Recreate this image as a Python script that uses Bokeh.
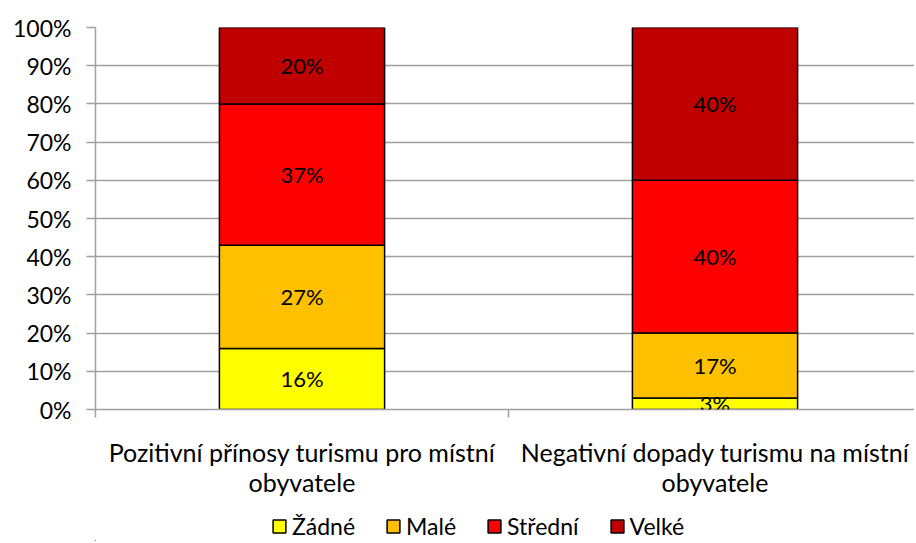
from bokeh.plotting import figure
from bokeh.layouts import column
from bokeh.models import ColumnDataSource, Range1d, FixedTicker, LabelSet, Legend
from bokeh.core.properties import value
from bokeh.embed import file_html
from bokeh.resources import INLINE

categories = ["Pozitivní přínosy turismu pro místní\nobyvatele",
              "Negativní dopady turismu na místní\nobyvatele"]
levels = ["Žádné", "Malé", "Střední", "Velké"]
zadne = [16, 3]
male = [27, 17]
stredni = [37, 40]
velke = [20, 40]
colors = ["#FFFF00", "#FFC000", "#FF0000", "#C00000"]
y_ticks = [0, 10, 20, 30, 40, 50, 60, 70, 80, 90, 100]

FONT = "Lato"
xs = [i + 0.5 for i in range(len(categories))]
source = ColumnDataSource(dict(x=xs, **{lv: v for lv, v in zip(levels, [zadne, male, stredni, velke])}))

p = figure(width=914, height=511, output_backend="svg", toolbar_location=None,
           x_range=Range1d(0, 819 / 413), y_range=Range1d(0, 100),
           min_border_left=95, min_border_right=0, min_border_top=27, min_border_bottom=102)
p.outline_line_color = None
p.background_fill_color = "white"

p.vbar_stack(levels, x="x", width=0.4, color=colors, line_color="black", line_width=1.5,
             source=source)

# data labels
lx, ly, lt = [], [], []
for i, x in enumerate(xs):
    base = 0
    for vals in [zadne, male, stredni, velke]:
        v = vals[i]
        lx.append(x)
        ly.append(base + v / 2)
        lt.append(f"{v}%")
        base += v
lab = ColumnDataSource(dict(x=lx, y=ly, t=lt))
p.add_layout(LabelSet(x="x", y="y", text="t", source=lab, text_align="center",
                      text_baseline="middle", text_font=value(FONT), text_font_size="22px",
                      text_color="black"))

GRAY = "#A0A0A0"
p.ygrid.ticker = FixedTicker(ticks=y_ticks)
p.ygrid.grid_line_color = GRAY
p.ygrid.grid_line_width = 1.5
p.xgrid.grid_line_color = None

ya = p.yaxis[0]
ya.ticker = FixedTicker(ticks=y_ticks)
ya.major_label_overrides = {t: f"{t}%" for t in y_ticks}
ya.axis_line_color = GRAY
ya.axis_line_width = 1.5
ya.major_tick_line_color = GRAY
ya.major_tick_line_width = 1.5
ya.major_tick_out = 9
ya.major_tick_in = 0
ya.minor_tick_line_color = None
ya.major_label_text_font = FONT
ya.major_label_text_font_size = "23px"
ya.major_label_text_color = "black"
ya.major_label_standoff = 15

xa = p.xaxis[0]
xa.ticker = FixedTicker(ticks=xs, minor_ticks=[0, 1, 2])
xa.major_label_overrides = {x: c for x, c in zip(xs, categories)}
xa.axis_line_color = GRAY
xa.axis_line_width = 1.5
xa.major_tick_line_color = None
xa.major_tick_out = 0
xa.major_tick_in = 0
xa.minor_tick_line_color = GRAY
xa.minor_tick_line_width = 1.5
xa.minor_tick_out = 8
xa.minor_tick_in = 0
xa.major_label_text_font = FONT
xa.major_label_text_font_size = "25px"
xa.major_label_text_line_height = 1.0
xa.major_label_text_color = "black"
xa.major_label_standoff = 19

# legend strip: same series, bars kept outside its (empty) view
q = figure(width=914, height=30, output_backend="svg", toolbar_location=None,
           x_range=Range1d(3, 4), y_range=Range1d(200, 201),
           x_axis_location=None, y_axis_location=None,
           min_border_left=95, min_border_right=0, min_border_top=0, min_border_bottom=0)
q.outline_line_color = None
q.xgrid.grid_line_color = None
q.ygrid.grid_line_color = None
rs = q.vbar_stack(levels, x="x", width=0.4, color=colors, line_color="black", line_width=1.5,
                  source=source)
lg = Legend(items=[(lv, [r]) for lv, r in zip(levels, rs)], orientation="horizontal",
            location=(176, 1))
lg.border_line_color = None
lg.background_fill_alpha = 0
lg.padding = 0
lg.margin = 0
lg.spacing = 30
lg.glyph_width = 16
lg.glyph_height = 16
lg.label_standoff = 5
lg.label_text_font = FONT
lg.label_text_font_size = "23px"
lg.label_text_color = "black"
q.add_layout(lg, "center")

open("out.html", "w").write(file_html(column(p, q, spacing=0), INLINE))
